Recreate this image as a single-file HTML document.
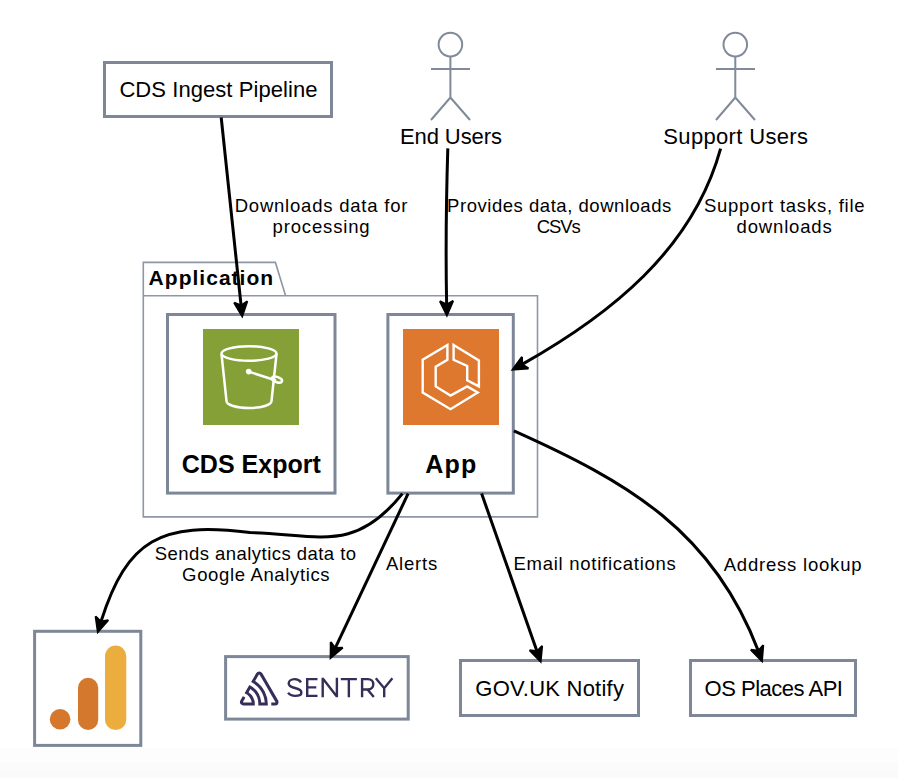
<!DOCTYPE html>
<html><head><meta charset="utf-8">
<style>
html,body{margin:0;padding:0;background:#fff;width:898px;height:778px;overflow:hidden}
svg{display:block;font-family:"Liberation Sans",sans-serif}
.box{fill:#fff;stroke:#7d8797;stroke-width:3}
.pkg{fill:none;stroke:#8d97a5;stroke-width:1.6}
.act{fill:none;stroke:#808a99;stroke-width:2}
.edge{fill:none;stroke:#000;stroke-width:3}
.ah{fill:#000;stroke:#000;stroke-width:2;stroke-linejoin:miter;stroke-miterlimit:3}
.nl{font-size:22px;fill:#000;text-anchor:middle}
.bl{font-size:25px;font-weight:bold;fill:#000;text-anchor:middle}
.el{font-size:17.5px;fill:#000;text-anchor:middle;letter-spacing:1.1px}
</style></head>
<body>
<svg width="898" height="778" viewBox="0 0 898 778">
<defs>
<linearGradient id="bot" x1="0" y1="0" x2="0" y2="1">
<stop offset="0" stop-color="#fdfdfd"/><stop offset="1" stop-color="#f8f8f8"/>
</linearGradient>
</defs>
<rect x="0" y="748" width="898" height="15" fill="#fdfdfd"/><rect x="0" y="763" width="898" height="9" fill="#fbfbfb"/><rect x="0" y="772" width="898" height="6" fill="#fafafa"/>

<!-- CDS Ingest Pipeline -->
<rect class="box" x="104.5" y="62.5" width="227" height="54"/>

<!-- actors -->
<g class="act">
<circle cx="450.4" cy="44.6" r="11.8"/>
<path d="M450.4 56.5V97.5M431 69H470M450.4 97.5L431 120M450.4 97.5L470 120"/>
<circle cx="735.3" cy="44.6" r="11.8"/>
<path d="M735.3 56.5V97.5M716 69H755M735.3 97.5L716 120M735.3 97.5L755 120"/>
</g>

<!-- package -->
<path class="pkg" d="M143.3 295.7V262.4H275.4L285.6 295.7M143.3 295.7H537.5V516.9H143.3Z"/>

<!-- CDS Export -->
<rect class="box" x="167.5" y="314.5" width="167.5" height="178.6"/>
<g transform="translate(203,329)">
<rect width="96" height="96" fill="#84a036"/>
<g fill="none" stroke="#fff" stroke-width="2.5">
<ellipse cx="46" cy="24.5" rx="27.5" ry="7.3"/>
<path d="M18.5 25L23.5 72A22.5 7 0 0 0 68.5 72L73.5 25"/>
<path d="M45.7 42.6L73 51.5"/>
<ellipse cx="74" cy="50.6" rx="5.3" ry="2.6" transform="rotate(20 74 50.6)"/>
</g>
<circle cx="45.7" cy="42.6" r="2.8" fill="#fff"/>
</g>

<!-- App -->
<rect class="box" x="387.9" y="314.5" width="125.4" height="178.6"/>
<g transform="translate(403,329)">
<rect width="96" height="96" fill="#de782e"/>
<g fill="none" stroke="#fff" stroke-width="2.4" stroke-linejoin="miter">
<path d="M44.4 16L19.7 30.8V63.5L47.5 80.2L74.7 63.5L64.2 57.4L47.5 66.6L32.7 57.4V37.6L44.4 30.8Z"/>
<path d="M50.6 16L75.9 31.5V57.4L64.2 51.2V37L50.6 30.8Z"/>
</g>
</g>

<!-- bottom boxes -->
<rect class="box" x="34.6" y="631.3" width="106.2" height="114.1"/>
<g>
<circle cx="60.1" cy="719.2" r="10.3" fill="#d5782d"/>
<rect x="78" y="677.7" width="20.2" height="52.3" rx="10.1" fill="#d3782d"/>
<rect x="105" y="645.6" width="21.3" height="84.4" rx="10.6" fill="#ebae3e"/>
</g>

<rect class="box" x="225.6" y="656.6" width="182.6" height="62.5"/>
<g transform="translate(240,671.6) scale(0.77)" fill="#362d59">
<path d="M29,2.26a4.67,4.67,0,0,0-8,0L14.42,13.53A32.21,32.21,0,0,1,32.17,40.19H27.55A27.68,27.68,0,0,0,12.09,17.47L6,28a15.92,15.92,0,0,1,9.23,12.170H4.62A.76.76,0,0,1,4,39.06l2.94-5a10.74,10.74,0,0,0-3.36-1.9l-2.91,5a4.54,4.54,0,0,0,1.690,6.24A4.66,4.66,0,0,0,4.62,44H19.15a19.4,19.4,0,0,0-8-17.31l2.31-4A23.87,23.87,0,0,1,23.76,44H36.07a35.88,35.88,0,0,0-16.41-31.8l4.67-8a.77.77,0,0,1,1.05-.27c.53.29,20.29,34.77,20.66,35.17a.76.76,0,0,1-.68,1.13H40.6q.09,1.910,0,3.81h4.78A4.59,4.59,0,0,0,50,39.43a4.49,4.49,0,0,0-.62-2.28Z"/>
</g>
<g fill="none" stroke="#362d59" stroke-width="2.4" stroke-linejoin="miter">
<path d="M301 682.3C299.6 680.1 297.3 679.1 294.6 679.1C291.1 679.1 288.7 681 288.7 683.6C288.7 686.5 291.6 687.3 294.9 688C298.6 688.8 301.4 689.9 301.4 692.5C301.4 694.9 299 695.9 295.2 695.9C292.1 695.9 289.6 694.8 288.1 692.6"/>
<path d="M317.5 679.1H307.2V695.9H317.5M307.2 687.4H316.3"/>
<path d="M322.7 697.2V677.8M336.9 697.2V677.8M323.2 679L336.4 696"/>
<path d="M340.8 679.1H356.9M348.85 679.1V697.2"/>
<path d="M362.1 697.2V679.1H367.8C371.3 679.1 373.3 681.5 373.3 684.3C373.3 687.1 371.3 689.5 367.8 689.5H362.1M367.5 689.5L373.8 697"/>
<path d="M375.8 678.2L384.2 688.2L392.4 678.2M384.2 688.2V697.2"/>
</g>

<rect class="box" x="460.5" y="660.5" width="178" height="55"/>
<rect class="box" x="690.5" y="660.5" width="165" height="55"/>

<!-- edges -->
<g class="edge">
<path d="M221.20 117.50L241.03 304.97"/>
<path d="M447.80 148.40C446.08 204.66 445.69 256.55 446.63 304.10"/>
<path d="M720.60 148.60C692.53 250.20 609.68 314.93 522.57 364.12"/>
<path d="M402.40 493.60C354.50 553.40 319.70 534.50 250.00 532.60C160.67 521.31 127.23 539.39 101.13 621.12"/>
<path d="M408.10 493.60L335.46 647.56"/>
<path d="M481.60 493.50L536.89 650.88"/>
<path d="M513.90 430.80C628.89 482.19 712.77 531.51 758.05 650.32"/>
</g>
<g>
<polygon class="ah" points="242.22,316.20 234.15,302.68 241.08,305.46 247.28,301.29"/>
<polygon class="ah" points="446.88,315.40 439.94,301.26 446.62,304.60 453.14,300.95"/>
<polygon class="ah" points="512.70,369.61 522.00,356.90 522.14,364.37 528.41,368.45"/>
<polygon class="ah" points="97.83,631.93 95.62,616.34 100.94,621.59 108.27,620.14"/>
<polygon class="ah" points="330.64,657.78 330.77,642.03 335.25,648.01 342.71,647.66"/>
<polygon class="ah" points="540.63,661.55 529.67,650.24 537.06,651.36 542.12,645.87"/>
<polygon class="ah" points="761.93,660.95 750.83,649.77 758.23,650.80 763.24,645.25"/>
</g>
<!-- labels -->
<text x="119.40" y="97.4" style="font-size:22px;letter-spacing:0.067px">CDS Ingest Pipeline</text>
<text x="400.00" y="143.5" style="font-size:22px;letter-spacing:-0.100px">End Users</text>
<text x="663.30" y="143.5" style="font-size:22px;letter-spacing:0.342px">Support Users</text>
<text x="475.30" y="695.7" style="font-size:22px;letter-spacing:0.225px">GOV.UK Notify</text>
<text x="704.60" y="695.7" style="font-size:22px;letter-spacing:-0.492px">OS Places API</text>
<text x="148.60" y="284.9" style="font-size:21px;letter-spacing:1.020px;font-weight:bold">Application</text>
<text x="181.80" y="473.3" style="font-size:25px;letter-spacing:0.011px;font-weight:bold">CDS Export</text>
<text x="425.20" y="472.7" style="font-size:25px;letter-spacing:1.250px;font-weight:bold">App</text>
<text x="234.70" y="211.8" style="font-size:18.5px;letter-spacing:0.782px">Downloads data for</text>
<text x="272.60" y="233.2" style="font-size:18.5px;letter-spacing:0.844px">processing</text>
<text x="447.10" y="211.8" style="font-size:18.5px;letter-spacing:0.535px">Provides data, downloads</text>
<text x="536.80" y="233.2" style="font-size:18.5px;letter-spacing:-1.100px">CSVs</text>
<text x="703.90" y="211.5" style="font-size:18.5px;letter-spacing:0.761px">Support tasks, file</text>
<text x="736.50" y="233.0" style="font-size:18.5px;letter-spacing:0.850px">downloads</text>
<text x="154.70" y="559.6" style="font-size:18.5px;letter-spacing:0.459px">Sends analytics data to</text>
<text x="182.10" y="581.0" style="font-size:18.5px;letter-spacing:0.647px">Google Analytics</text>
<text x="386.00" y="570.3" style="font-size:18.5px;letter-spacing:0.780px">Alerts</text>
<text x="513.50" y="570.1" style="font-size:18.5px;letter-spacing:0.733px">Email notifications</text>
<text x="723.70" y="570.5" style="font-size:18.5px;letter-spacing:0.792px">Address lookup</text>
</svg>
</body></html>
